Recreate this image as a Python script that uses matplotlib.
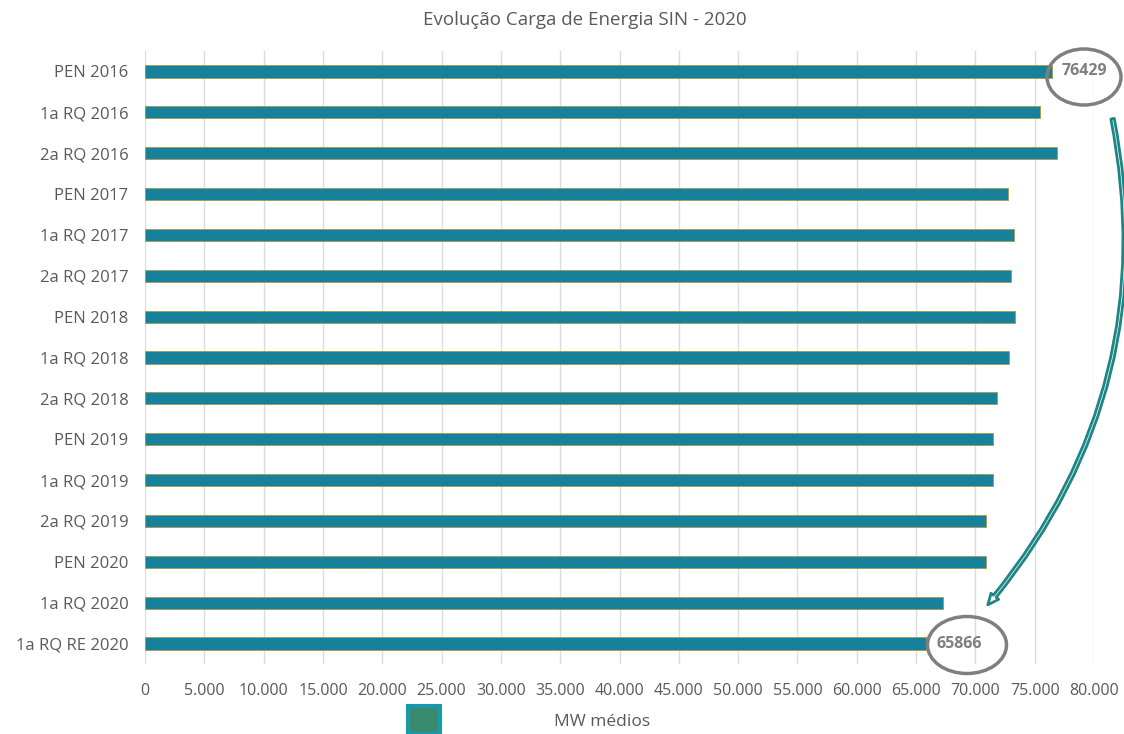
import matplotlib
matplotlib.use("Agg")
import matplotlib.pyplot as plt
from matplotlib.patches import Ellipse, Rectangle, FancyArrowPatch
from matplotlib.ticker import FuncFormatter

plt.rcParams['font.family'] = ['Open Sans', 'DejaVu Sans']

categories = ["PEN 2016", "1a RQ 2016", "2a RQ 2016", "PEN 2017", "1a RQ 2017",
              "2a RQ 2017", "PEN 2018", "1a RQ 2018", "2a RQ 2018", "PEN 2019",
              "1a RQ 2019", "2a RQ 2019", "PEN 2020", "1a RQ 2020", "1a RQ RE 2020"]
values = [76429, 75480, 76860, 72760, 73260, 73010, 73320, 72840, 71810,
          71470, 71470, 70880, 70880, 67310, 65866]
x_ticks = list(range(0, 80001, 5000))
labelled = {0: "76429", 14: "65866"}

W, H = 1124, 734
fig = plt.figure(figsize=(W / 100, H / 100), dpi=100)
ax = fig.add_axes([145 / W, 1 - 664 / H, (1094 - 145) / W, (664 - 51) / H])

teal = "#17809b"
gray_txt = "#595959"

ax.barh(range(len(values)), values, height=0.3, color=teal,
        edgecolor="#a39a45", linewidth=0.6, zorder=3)

ax.set_xlim(0, 80000)
ax.set_ylim(len(values) - 0.5, -0.5)
ax.set_yticks(range(len(categories)))
ax.set_yticklabels(categories)
ax.set_xticks(x_ticks)
ax.xaxis.set_major_formatter(FuncFormatter(lambda v, p: f"{int(v):,}".replace(",", ".")))
ax.tick_params(axis="both", length=0, colors=gray_txt)
ax.tick_params(axis="x", pad=14, labelsize=11.5)
ax.tick_params(axis="y", pad=12, labelsize=12)
ax.grid(axis="x", color="#dcdcdc", linewidth=1, zorder=0)
for s in ax.spines.values():
    s.set_visible(False)

for i, txt in labelled.items():
    ax.annotate(txt, (values[i], i), xytext=(7, 0), textcoords="offset points",
                va="center", ha="left", fontsize=11.5, fontweight="bold",
                color="#7f7f7f", zorder=5)

# circles round the two labels
fig.add_artist(Ellipse((1084 / W, 1 - 77 / H), 74 / W, 56 / H, fill=False,
                       edgecolor="#7f7f7f", linewidth=2.5))
fig.add_artist(Ellipse((967 / W, 1 - 645 / H), 79 / W, 57 / H, fill=False,
                       edgecolor="#7f7f7f", linewidth=2.5))

# hollow curved arrow
arrow = FancyArrowPatch((1112 / W, 1 - 116 / H), (986 / W, 1 - 607 / H),
                        transform=fig.transFigure,
                        connectionstyle="arc3,rad=-0.24",
                        arrowstyle="Simple,tail_width=2.5,head_width=7,head_length=8",
                        facecolor="white", edgecolor="#1e8585", linewidth=2)
fig.add_artist(arrow)

fig.text(585 / W, 1 - 20 / H, "Evolução Carga de Energia SIN - 2020",
         ha="center", va="center", fontsize=13.5, color=gray_txt)

# legend
fig.add_artist(Rectangle((408 / W, 1 - 734 / H), 32 / W, 28 / H,
                         facecolor="#3a8a70", edgecolor="#1a9aa8", linewidth=3))
fig.text(602 / W, 1 - 722 / H, "MW médios", ha="center", va="center",
         fontsize=12.5, color=gray_txt)

fig.savefig("out.png", dpi=100)
